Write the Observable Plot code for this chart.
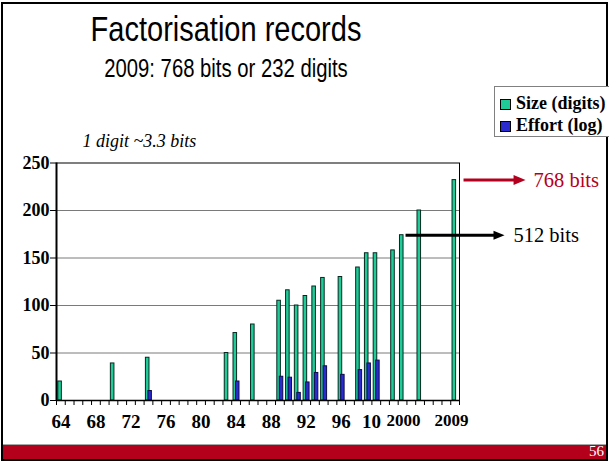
<!DOCTYPE html>
<html>
<head>
<meta charset="utf-8">
<script src="https://cdn.jsdelivr.net/npm/d3@7"></script>
<script src="https://cdn.jsdelivr.net/npm/@observablehq/plot@0.6"></script>
<style>
  html, body { margin: 0; padding: 0; background: #fff; }
  #slide { position: relative; width: 609px; height: 461px; overflow: hidden; background: #fff; }
  #chart { position: absolute; left: 0; top: 0; }
  #chart svg { overflow: visible; }
  .title { position: absolute; left: 0; width: 452px; text-align: center; color: #000;
           font-family: "Liberation Sans", Arial, Helvetica, sans-serif; white-space: nowrap; }
  #t1 { top: 17px; font-size: 29px; line-height: 29px; transform: scaleY(1.22); transform-origin: 50% 24.5px; }
  #t2 { top: 59.5px; font-size: 20.3px; line-height: 20px; transform: scaleY(1.3); transform-origin: 50% 17px; }
  #border { position: absolute; left: 1px; top: 2px; width: 607px; height: 459px; box-sizing: border-box;
            border: 2px solid #000; pointer-events: none; }
  #footer { position: absolute; left: 3px; top: 444px; width: 603px; height: 14px; background: #b5001b;
            border-top: 1px solid #a8a8a8; }
  #pageno { position: absolute; right: 2px; top: -1px; color: #fff; font-family: "Liberation Serif", "Times New Roman", serif;
            font-size: 15px; line-height: 15px; }
  #legend { position: absolute; left: 494px; top: 86px; width: 130px; height: 51px; box-sizing: border-box;
            border: 1px solid #808080; background: #fff;
            font-family: "Liberation Serif", "Times New Roman", serif; font-weight: bold; font-size: 18px; }
  .row { position: absolute; left: 5px; height: 18px; line-height: 18px; white-space: nowrap; }
  .sw { display: inline-block; width: 9px; height: 9px; border: 1px solid #000; vertical-align: -1px; margin-right: 5px; }
</style>
</head>
<body>
<div id="slide">
  <div id="chart"></div>
  <div id="border"></div>
  <div class="title" id="t1">Factorisation records</div>
  <div class="title" id="t2">2009: 768 bits or 232 digits</div>
  <div id="legend">
    <div class="row" style="top:7px"><span class="sw" id="sw1"></span>Size (digits)</div>
    <div class="row" style="top:29px"><span class="sw" id="sw2"></span>Effort (log)</div>
  </div>
  <div id="footer"><span id="pageno">56</span></div>
</div>
<script>
// ---- data ----
const years  = [1964, 1970, 1974, 1983, 1984, 1986, 1989, 1990, 1991, 1992, 1993, 1994, 1996, 1998, 1999, 2000, 2002, 2003, 2005, 2009];
const sizeDigits = [20, 39, 45, 50, 71, 80, 105, 116, 100, 110, 120, 129, 130, 140, 155, 155, 158, 174, 200, 232];
const effortLog  = [null, null, 10, null, 20, null, 25, 24, 8, 19, 29, 36, 27, 32, 39, 42, null, null, null, null];

const seriesNames = ["Size (digits)", "Effort (log)"];
const yTicks = [0, 50, 100, 150, 200, 250];
const xTickYears = d3.range(1964, 2011);
const xLabelPos  = [1964.5, 1968.5, 1972.5, 1976.5, 1980.5, 1984.5, 1988.5, 1992.5, 1996.5, 1999.95];
const xLabelText = ["64", "68", "72", "76", "80", "84", "88", "92", "96", "10"];
const xExtraPos  = [2003.6, 2009.1];
const xExtraText = ["2000", "2009"];

// annotations
const noteText = ["1 digit ~3.3 bits"];
const noteX = [1966.97];
const noteY = [272.5];
const arrowLabels = ["768 bits", "512 bits"];
const arrowY  = [232, 174];
const arrowX1 = [2010.46, 2003.84];
const arrowX2 = [2017.54, 2015.14];
const arrowLabelX = [2018.45, 2016.16];
const arrowColors = ["#b3001e", "#000000"];
const arrowHeadLen = [12, 11];
const arrowHeadHalf = [5, 4.5];

// ---- styles ----
const greenFill = "#1fcc98", greenStroke = "#07281f";
const blueFill = "#2b2bcf", blueStroke = "#0b0b4a";
document.getElementById("sw1").style.background = greenFill;
document.getElementById("sw2").style.background = blueFill;

const data = years.map((y, i) => ({year: y, size: sizeDigits[i], effort: effortLog[i]}));
const effortData = data.filter(d => d.effort != null);
const arrows = arrowLabels.map((t, i) => ({label: t, y: arrowY[i], x1: arrowX1[i], x2: arrowX2[i], lx: arrowLabelX[i],
  color: arrowColors[i], len: arrowHeadLen[i], half: arrowHeadHalf[i]}));
const pxPerYear = (609 - 56 - 150) / (2010 - 1964);

function headSymbol(len, half) {
  return { draw(ctx) { ctx.moveTo(0, 0); ctx.lineTo(-len, -half); ctx.lineTo(-len, half); ctx.closePath(); } };
}

const serif = "'Liberation Serif','Times New Roman',serif";

const plot = Plot.plot({
  width: 609,
  height: 461,
  marginLeft: 56,
  marginRight: 150,
  marginTop: 162.5,
  marginBottom: 61,
  x: {domain: [1964, 2010], axis: null},
  y: {domain: [0, 250], axis: null},
  style: {fontFamily: serif, fontSize: "18px", fontWeight: "bold", color: "#000", background: "transparent", overflow: "visible"},
  marks: [
    Plot.gridY(yTicks.filter(t => t > 0 && t < 250), {stroke: "#7a7a7a", strokeOpacity: 1, strokeWidth: 1}),
    Plot.frame({stroke: "#000", strokeWidth: 1}),
    Plot.rectY(data, {x1: "year", x2: d => d.year + 1, y: "size", fill: greenFill, stroke: greenStroke, strokeWidth: 1,
      insetLeft: 1.8, insetRight: 3.4, title: d => `${seriesNames[0]}: ${d.size}`}),
    Plot.rectY(effortData, {x1: "year", x2: d => d.year + 1, y: "effort", fill: blueFill, stroke: blueStroke, strokeWidth: 1,
      insetLeft: 4.3, insetRight: 1.0, title: d => `${seriesNames[1]}: ${d.effort}`}),
    Plot.ruleY([0], {stroke: "#000", strokeWidth: 1.6}),
    Plot.ruleX([1964], {stroke: "#000", strokeWidth: 2}),
    Plot.axisY({ticks: yTicks, tickSize: 6, tickPadding: 1, fontSize: 18, fontWeight: "bold", fontFamily: serif, stroke: "#000"}),
    Plot.axisX({ticks: xTickYears, tickSize: 5, tickFormat: () => "", stroke: "#000"}),
    Plot.axisX({ticks: xLabelPos, tickSize: 0, tickPadding: 14, fontSize: 19, fontWeight: "bold", fontFamily: serif,
      tickFormat: d => xLabelText[xLabelPos.indexOf(d)]}),
    Plot.axisX({ticks: xExtraPos, tickSize: 0, tickPadding: 13, fontSize: 17, fontWeight: "bold", fontFamily: serif,
      tickFormat: d => xExtraText[xExtraPos.indexOf(d)]}),
    // annotations
    Plot.text(noteText, {x: (d, i) => noteX[i], y: (d, i) => noteY[i], text: d => d, textAnchor: "start",
      fontStyle: "italic", fontWeight: "normal", fontSize: 18, fontFamily: serif}),
    Plot.link(arrows, {x1: "x1", x2: d => d.x2 - (d.len - 2) / pxPerYear, y1: "y", y2: "y", stroke: "color", strokeWidth: 3}),
    ...arrows.map(a => Plot.dot([a], {x: "x2", y: "y", fill: "color", stroke: null, r: 5, symbol: headSymbol(a.len, a.half)})),
    Plot.text(arrows, {x: "lx", y: "y", text: "label", fill: "color", textAnchor: "start", fontWeight: "normal", fontSize: 20.5, fontFamily: serif})
  ]
});
document.getElementById("chart").appendChild(plot);
</script>
</body>
</html>
